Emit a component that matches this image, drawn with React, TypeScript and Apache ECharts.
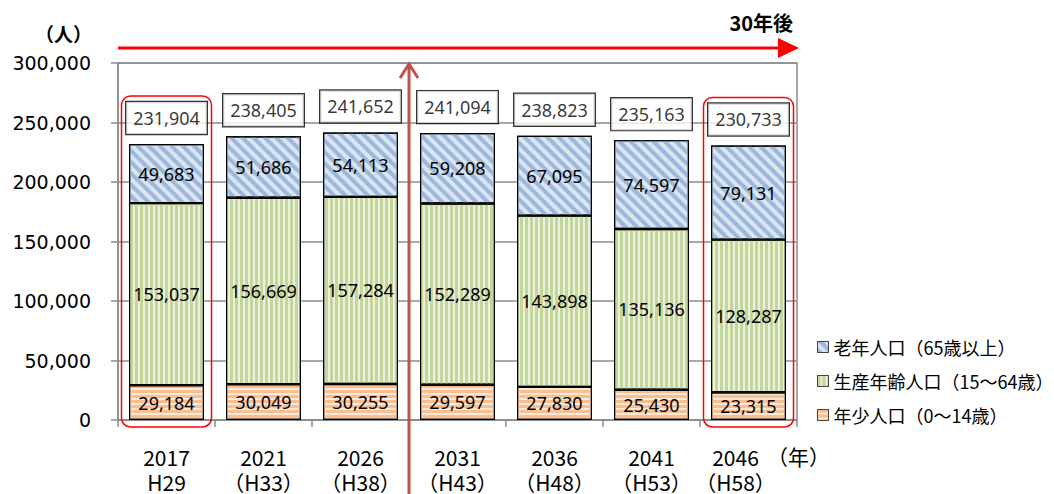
import React, { useEffect, useRef } from 'react';
import * as echarts from 'echarts';

const years = ['2017', '2021', '2026', '2031', '2036', '2041', '2046'];
const eras = ['H29', '（H33）', '（H38）', '（H43）', '（H48）', '（H53）', '（H58）'];
const youth = [29184, 30049, 30255, 29597, 27830, 25430, 23315];
const working = [153037, 156669, 157284, 152289, 143898, 135136, 128287];
const elderly = [49683, 51686, 54113, 59208, 67095, 74597, 79131];
const totals = [231904, 238405, 241652, 241094, 238823, 235163, 230733];
const names = ['年少人口（0～14歳）', '生産年齢人口（15～64歳）', '老年人口（65歳以上）'];
const legendOrder = [names[2], names[1], names[0]];

const fmt = (v: number) => Number(v).toLocaleString('en-US');
const JP = "'Noto Sans CJK JP', 'Noto Sans', sans-serif";
const NUM = "'Noto Sans', 'Noto Sans CJK JP', sans-serif";

export default function App() {
  const ref = useRef<HTMLDivElement>(null);
  useEffect(() => {
    document.body.style.margin = '0';
    const chart = echarts.init(ref.current!, null, { renderer: 'svg' });
    const barLabel = {
      show: true,
      position: 'inside',
      color: '#000',
      fontSize: 18,
      fontFamily: NUM,
      formatter: (p: any) => fmt(p.value),
    };
    const border = { borderColor: '#000', borderWidth: 1.2 };
    const option: any = {
      animation: false,
      grid: { left: 118, right: 257, top: 63, bottom: 71, show: true, borderColor: '#8c8c8c', borderWidth: 1.5 },
      legend: {
        data: legendOrder,
        orient: 'vertical',
        left: 812,
        top: 333,
        itemWidth: 11,
        itemHeight: 11,
        itemGap: 16,
        icon: 'rect',
        textStyle: { fontSize: 18, fontFamily: JP, color: '#000' },
        itemStyle: { borderColor: '#444', borderWidth: 1 },
      },
      xAxis: {
        type: 'category',
        data: years,
        axisLine: { lineStyle: { color: '#8c8c8c', width: 1.5 } },
        axisTick: { show: true, length: 7, lineStyle: { color: '#8c8c8c', width: 1.5 } },
        axisLabel: {
          interval: 0,
          hideOverlap: false,
          color: '#000',
          fontSize: 21,
          lineHeight: 25,
          fontFamily: JP,
          margin: 24,
          formatter: (v: string, i: number) =>
            i === years.length - 1 ? `{last|${v}}\n{last|${eras[i]}}` : `${v}\n${eras[i]}`,
          rich: {
            last: { fontSize: 21, lineHeight: 25, fontFamily: JP, color: '#000', padding: [0, 26, 0, 0] },
          },
        },
      },
      yAxis: {
        type: 'value',
        min: 0,
        max: 300000,
        interval: 50000,
        axisLine: { show: true, lineStyle: { color: '#8c8c8c', width: 1.5 } },
        axisTick: { show: true, length: 7, lineStyle: { color: '#8c8c8c', width: 1.5 } },
        splitLine: { lineStyle: { color: '#8c8c8c', width: 1.5 } },
        axisLabel: { color: '#000', fontSize: 19, fontFamily: "'DejaVu Sans', sans-serif", margin: 27, formatter: (v: number) => fmt(v) },
      },
      series: [
        {
          name: names[0], type: 'bar', stack: 'a', data: youth, barWidth: 75,
          itemStyle: { color: '#fde9d9', ...border, decal: { symbol: 'rect', symbolSize: 1, color: '#fabf8f', dashArrayX: [1, 0], dashArrayY: [3, 2], rotation: 0 } },
          label: barLabel,
        },
        {
          name: names[1], type: 'bar', stack: 'a', data: working, barWidth: 75,
          itemStyle: { color: '#ebf1de', ...border, decal: { symbol: 'rect', symbolSize: 1, color: '#c4d79b', dashArrayX: [3, 2], dashArrayY: [1, 0], rotation: 0 } },
          label: barLabel,
        },
        {
          name: names[2], type: 'bar', stack: 'a', data: elderly, barWidth: 75,
          itemStyle: { color: '#dbe5f1', ...border, decal: { symbol: 'rect', symbolSize: 1, color: '#9cb8dd', dashArrayX: [4, 4], dashArrayY: [1, 0], rotation: -Math.PI / 4 } },
          label: barLabel,
        },
        {
          type: 'scatter', data: totals, symbolSize: 0, silent: true, z: 5,
          label: {
            show: true, position: 'top', distance: 10, formatter: (p: any) => fmt(p.value),
            backgroundColor: '#fff', borderColor: '#000', borderWidth: 1.2, padding: [7, 7, 7, 7],
            fontSize: 18, color: '#000', fontFamily: NUM,
          },
        },
      ],
    };
    chart.setOption(option);

    const px = (i: number) => chart.convertToPixel({ xAxisIndex: 0 }, i) as number;
    const py = (v: number) => chart.convertToPixel({ yAxisIndex: 0 }, v) as number;
    const band = px(1) - px(0);
    const left = px(0) - band / 2;
    const right = px(years.length - 1) + band / 2;
    const yTop = py(300000);
    const y0 = py(0);
    const boxFor = (i: number) => ({
      type: 'rect',
      shape: { x: px(i) - 45, y: py(totals[i]) - 48, width: 90, height: y0 + 7 - (py(totals[i]) - 48), r: 9 },
      style: { fill: 'none', stroke: '#ff0000', lineWidth: 1.5 },
      z: 10,
    });
    const arrowX = (px(2) + px(3)) / 2;
    const hY = yTop - 15;
    chart.setOption({
      graphic: [
        boxFor(0),
        boxFor(years.length - 1),
        { type: 'line', shape: { x1: left, y1: hY, x2: right - 16, y2: hY }, style: { stroke: '#ff0000', lineWidth: 3 }, z: 10 },
        { type: 'polygon', shape: { points: [[right - 19, hY - 10], [right + 2, hY], [right - 19, hY + 10]] }, style: { fill: '#ff0000' }, z: 10 },
        { type: 'line', shape: { x1: arrowX, y1: 494, x2: arrowX, y2: yTop + 2 }, style: { stroke: '#c0504d', lineWidth: 3 }, z: 10 },
        { type: 'polyline', shape: { points: [[arrowX - 9, yTop + 15], [arrowX, yTop + 1], [arrowX + 9, yTop + 15]] }, style: { stroke: '#c0504d', lineWidth: 3, fill: 'none' }, z: 10 },
        { type: 'text', x: right - 4, y: 22, style: { text: '30年後', fontSize: 20, fontWeight: 'bold', fontFamily: JP, fill: '#000', align: 'right', verticalAlign: 'middle' }, z: 10 },
        { type: 'text', x: 92, y: 33, style: { text: '（人）', fontSize: 19, fontWeight: 'bold', fontFamily: JP, fill: '#000', align: 'right', verticalAlign: 'middle' }, z: 10 },
        { type: 'text', x: 767, y: y0 + 36, style: { text: '（年）', fontSize: 21, fontFamily: JP, fill: '#000', align: 'left', verticalAlign: 'middle' }, z: 10 },
      ],
    });
    return () => chart.dispose();
  }, []);
  return <div ref={ref} style={{ width: 1054, height: 494 }} />;
}
